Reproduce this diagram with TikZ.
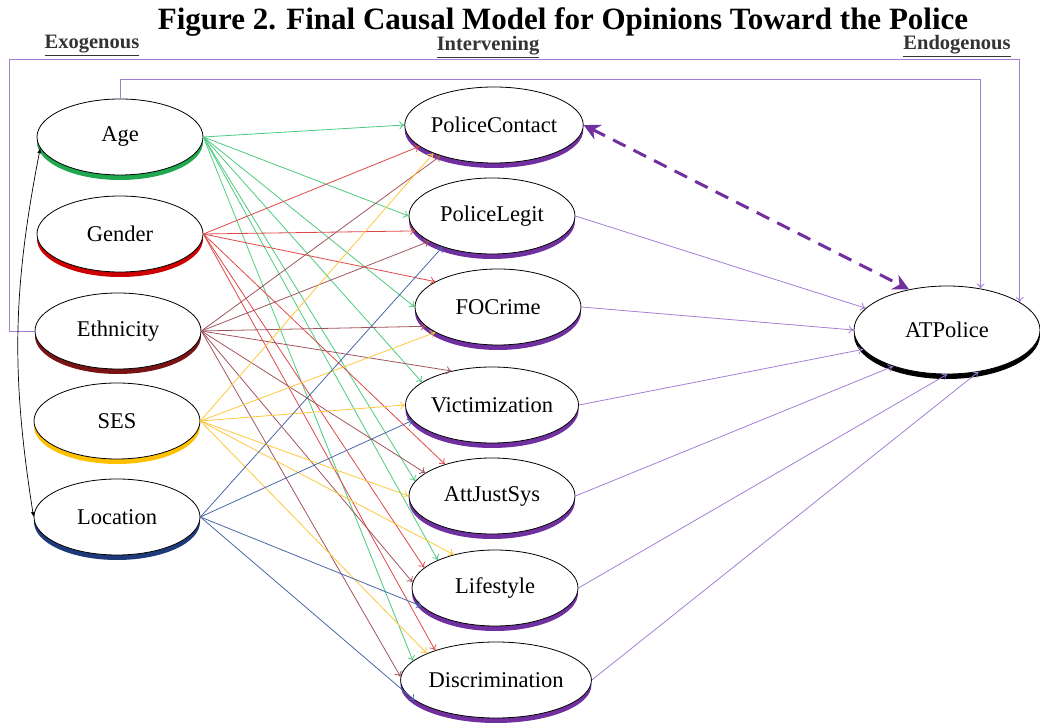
\documentclass[tikz,border=0pt]{standalone}
\usepackage{fontspec}
\setmainfont{Liberation Serif}
\usetikzlibrary{shapes.geometric,arrows.meta,shadows}

\definecolor{agegreen}{HTML}{4CCB7E}
\definecolor{agedark}{HTML}{1FA84E}
\definecolor{gendred}{HTML}{E04848}
\definecolor{genddark}{HTML}{CC0000}
\definecolor{ethbrown}{HTML}{A2545C}
\definecolor{ethdark}{HTML}{7A1414}
\definecolor{sesyellow}{HTML}{FFC83C}
\definecolor{sesdark}{HTML}{FFC000}
\definecolor{locblue}{HTML}{4A68A6}
\definecolor{locdark}{HTML}{1F3A78}
\definecolor{pathpurple}{HTML}{A47ED6}
\definecolor{deeppurple}{HTML}{7030A0}

\tikzset{
  latent/.style={ellipse, draw=black, fill=white, line width=0.8pt,
    minimum width=166pt, minimum height=76pt, inner sep=0pt,
    font=\fontsize{22.5}{26}\selectfont},
  glow/.style={general shadow={fill=#1, shadow yshift=-5pt}},
  head/.style={anchor=base, inner sep=1pt, text=black!80, font=\fontsize{20.5}{23}\selectfont\bfseries},
  eff/.style={line width=0.8pt, -{To[length=5pt,width=8pt]}},
}

\begin{document}
\begin{tikzpicture}[x=1pt,y=1pt]
\useasboundingbox (0,0) rectangle (1040,722);

%% title and headings
\node[anchor=base, inner sep=1pt, font=\fontsize{31}{34}\selectfont\bfseries] (title) at (563,692)
  {Figure 2. Final Causal Model for Opinions Toward the Police};
\node[head] (hexo) at (92,673) {\underline{Exogenous}};
\node[head] (hint) at (488,671) {\underline{Intervening}};
\node[head] (hend) at (957,672) {\underline{Endogenous}};

%% exogenous variables
\node[latent, glow=agedark]  (age)    at (120,585) {Age};
\node[latent, glow=genddark] (gender) at (120,488) {Gender};
\node[latent, glow=ethdark]  (eth)    at (118,391) {Ethnicity};
\node[latent, glow=sesdark]  (ses)    at (117,301) {SES};
\node[latent, glow=locdark]  (loc)    at (117,205) {Location};

%% intervening variables
\node[latent, glow=deeppurple] (pc)   at (494,597) {PoliceContact};
\node[latent, glow=deeppurple] (pl)   at (492,506) {PoliceLegit};
\node[latent, glow=deeppurple] (foc)  at (498,415) {FOCrime};
\node[latent, glow=deeppurple] (vic)  at (492,317) {Victimization};
\node[latent, glow=deeppurple] (ajs)  at (492,226) {AttJustSys};
\node[latent, glow=deeppurple] (life) at (495,134) {Lifestyle};
\node[latent, glow=deeppurple] (disc) at (496,42)  {Discrimination};

%% endogenous variable
\node[latent, glow=black, minimum width=186pt, minimum height=88pt] (atp) at (947,392) {ATPolice};

%% paths from exogenous variables
\foreach \t/\a in {pc/180, pl/180, foc/180, vic/162, ajs/169, life/154, disc/167}
  \draw[eff, agegreen] (age.east) -- (\t.\a);
\foreach \t/\a in {pc/196, pl/191, foc/158, ajs/146, life/164, disc/154}
  \draw[eff, gendred] (gender.east) -- (\t.\a);
\foreach \t/\a in {pc/210, pl/202, foc/195, vic/140, ajs/161, life/176, disc/178}
  \draw[eff, ethbrown] (eth.east) -- (\t.\a);
\foreach \t/\a in {pc/205, foc/202, vic/180, ajs/180, life/141, disc/159}
  \draw[eff, sesyellow] (ses.east) -- (\t.\a);
\foreach \t/\a in {pl/212, vic/191, life/194, disc/194}
  \draw[eff, locblue] (loc.east) -- (\t.\a);

%% paths to ATPolice
\foreach \t/\a in {pl/165, foc/180, vic/193, ajs/214, life/270, disc/307}
  \draw[eff, pathpurple] (\t.east) -- (atp.\a);
\coordinate (agetop) at (120,643);
\coordinate (ethtop) at (9,663);
\draw[eff, pathpurple] (age.north) -- (agetop) -| (atp.51);
\draw[eff, pathpurple] (eth.west) -| (ethtop) -| (atp.21);

%% covariances
\draw[deeppurple, line width=3pt, dash pattern=on 14pt off 9pt,
  {Stealth[length=16pt,width=16pt]}-{Stealth[length=16pt,width=16pt]}] (pc.east) -- (atp.133);
\draw[black, line width=0.7pt,
  {Latex[length=5pt,width=4pt]}-{Latex[length=5pt,width=4pt]}] (loc.west) to[bend left=10] (age.188);

\end{tikzpicture}
\end{document}
